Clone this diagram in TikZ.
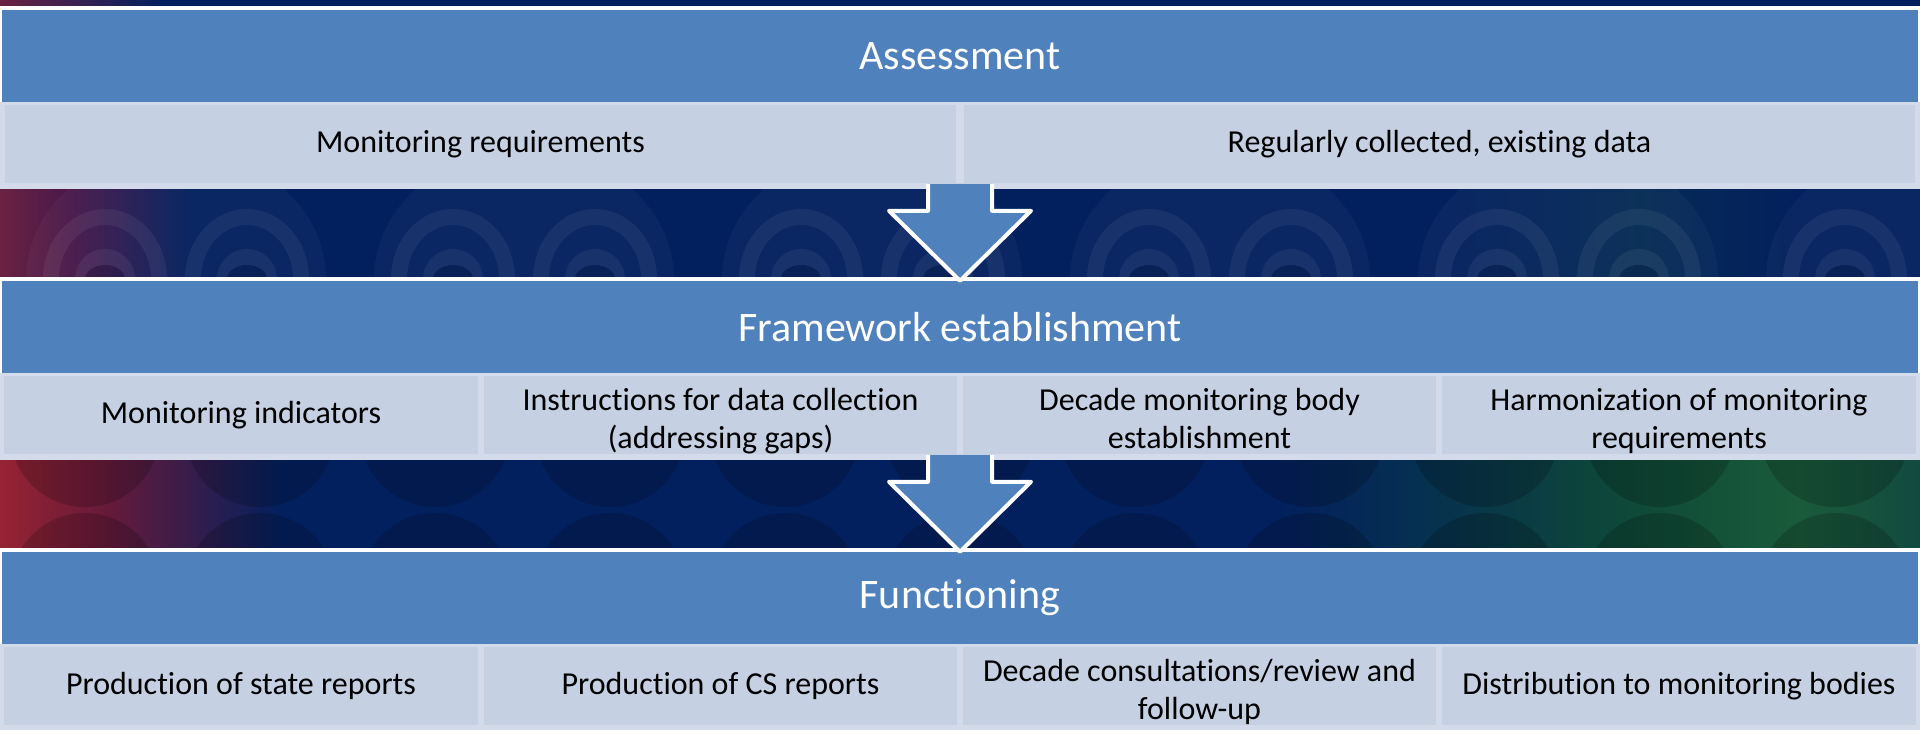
\documentclass[tikz,border=0pt]{standalone}
\usepackage{fontspec}
\setmainfont{Carlito}[Ligatures=CommonOff]
\usetikzlibrary{calc}
\definecolor{hdr}{HTML}{4F81BD}
\definecolor{cellfill}{HTML}{C5D0E3}
\definecolor{cellline}{HTML}{D3DBEA}
\definecolor{navy}{HTML}{03205E}
\definecolor{redA}{HTML}{962333}
\definecolor{redB}{HTML}{641A3A}
\definecolor{redC}{HTML}{6A2242}
\definecolor{purp}{HTML}{48184A}
\definecolor{tealA}{HTML}{063050}
\definecolor{greenA}{HTML}{0E4838}
\definecolor{greenB}{HTML}{1A5B3A}
\definecolor{greenC}{HTML}{124A40}
\newcommand{\twolines}[2]{\raisebox{-13pt}[0pt][0pt]{\begin{tabular}{@{}c@{}}#1\\#2\end{tabular}}}
\begin{document}
\begin{tikzpicture}[x=1pt,y=-1pt,
  hdrbox/.style={rectangle, fill=hdr, minimum width=1916pt, minimum height=92pt,
    inner sep=0pt, text=white, font=\fontsize{42}{50}\selectfont},
  cellbox/.style={rectangle, fill=cellfill, draw=cellline, line width=2.5pt,
    minimum height=80pt, inner sep=0pt, align=center, text=black,
    font=\fontsize{32}{38}\selectfont},
  narrow/.style={cellbox, minimum width=476pt},
  wide/.style={cellbox, minimum width=954pt},
  blockarrow/.style={fill=hdr},
  arrowedge/.style={draw=white, line width=4pt, line join=round},
  ring/.style={white, opacity=.06, even odd rule},
  blob/.style={black, opacity=.18}]
\useasboundingbox (0,0) rectangle (1920,729);
% ---------- background ----------
\fill[navy] (0,0) rectangle (1920,729);
\shade[left color=redC, right color=navy] (0,0) rectangle (160,8);
% band 2
\shade[left color=redC, right color=purp] (0,186) rectangle (70,280);
\shade[left color=purp, right color=navy] (70,186) rectangle (190,280);
\shade[left color=navy, right color=tealA!70!navy] (1450,186) rectangle (1640,280);
\shade[left color=tealA!70!navy, right color=navy] (1640,186) rectangle (1800,280);
\begin{scope}
  \clip (0,186) rectangle (1920,280);
  \foreach \cx in {176,524,872,1220,1568,1916} {
    \fill[white, opacity=.03] (\cx,279) ellipse [x radius=150, y radius=130];
  }
  \foreach \cx in {105,453,801,1149,1497,1845,247,595,943,1291,1639} {
    \fill[ring] (\cx,279) ellipse [x radius=62, y radius=70]
                (\cx,279) ellipse [x radius=46, y radius=54];
    \fill[ring] (\cx,279) ellipse [x radius=30, y radius=30]
                (\cx,279) ellipse [x radius=20, y radius=14];
    \fill[black, opacity=.12] (\cx,279) ellipse [x radius=20, y radius=14];
  }
\end{scope}
% band 3
\shade[left color=redA, right color=redB] (0,456) rectangle (110,552);
\shade[left color=redB, right color=navy] (110,456) rectangle (280,552);
\shade[left color=navy, right color=tealA] (1280,456) rectangle (1420,552);
\shade[left color=tealA, right color=greenA] (1420,456) rectangle (1620,552);
\shade[left color=greenA, right color=greenB] (1620,456) rectangle (1800,552);
\shade[left color=greenB, right color=greenC] (1800,456) rectangle (1920,552);
\begin{scope}
  \clip (0,458) rectangle (1920,550);
  \foreach \cx in {85,260,435,610,785,960,1135,1310,1485,1660,1835} {
    \fill[blob] (\cx,432) circle [radius=75];
    \fill[blob] (\cx,588) circle [radius=75];
  }
\end{scope}
% ---------- sections ----------
\foreach \yy in {6,277,548} {
  \fill[white] (0,\yy) rectangle (1920,\yy+96);
  \fill[cellline] (0,\yy+96) rectangle (1920,\yy+183);
}
% Section A
\node[hdrbox] (hdrA) at (960,56) {Assessment};
\node[wide] (cA1) at (480.5,144) {Monitoring requirements};
\node[wide] (cA2) at (1439.5,144) {Regularly collected, existing data};
% Section B
\node[hdrbox] (hdrB) at (960,327) {Framework establishment};
\node[narrow] (cB1) at (241,415) {Monitoring indicators};
\node[narrow] (cB2) at (720.5,415) {\twolines{Instructions for data collection}{(addressing gaps)}};
\node[narrow] (cB3) at (1199.5,415) {\twolines{Decade monitoring body}{establishment}};
\node[narrow] (cB4) at (1679,415) {\twolines{Harmonization of monitoring}{requirements}};
% Section C
\node[hdrbox] (hdrC) at (960,598) {Functioning};
\node[narrow] (cC1) at (241,686) {Production of state reports};
\node[narrow] (cC2) at (720.5,686) {Production of CS reports};
\node[narrow] (cC3) at (1199.5,686) {\twolines{Decade consultations/review and}{follow-up}};
\node[narrow] (cC4) at (1679,686) {Distribution to monitoring bodies};
% ---------- block arrows ----------
\foreach \t in {hdrB,hdrC} {
  \coordinate (tip) at (\t.north);
  \fill[blockarrow] ($(tip)+(-32,-97)$) -- ($(tip)+(-32,-70)$) -- ($(tip)+(-71,-70)$)
     -- (tip) -- ($(tip)+(71,-70)$) -- ($(tip)+(32,-70)$) -- ($(tip)+(32,-97)$) -- cycle;
  \draw[arrowedge] ($(tip)+(-32,-97)$) -- ($(tip)+(-32,-70)$) -- ($(tip)+(-71,-70)$)
     -- (tip) -- ($(tip)+(71,-70)$) -- ($(tip)+(32,-70)$) -- ($(tip)+(32,-97)$);
}
\end{tikzpicture}
\end{document}
